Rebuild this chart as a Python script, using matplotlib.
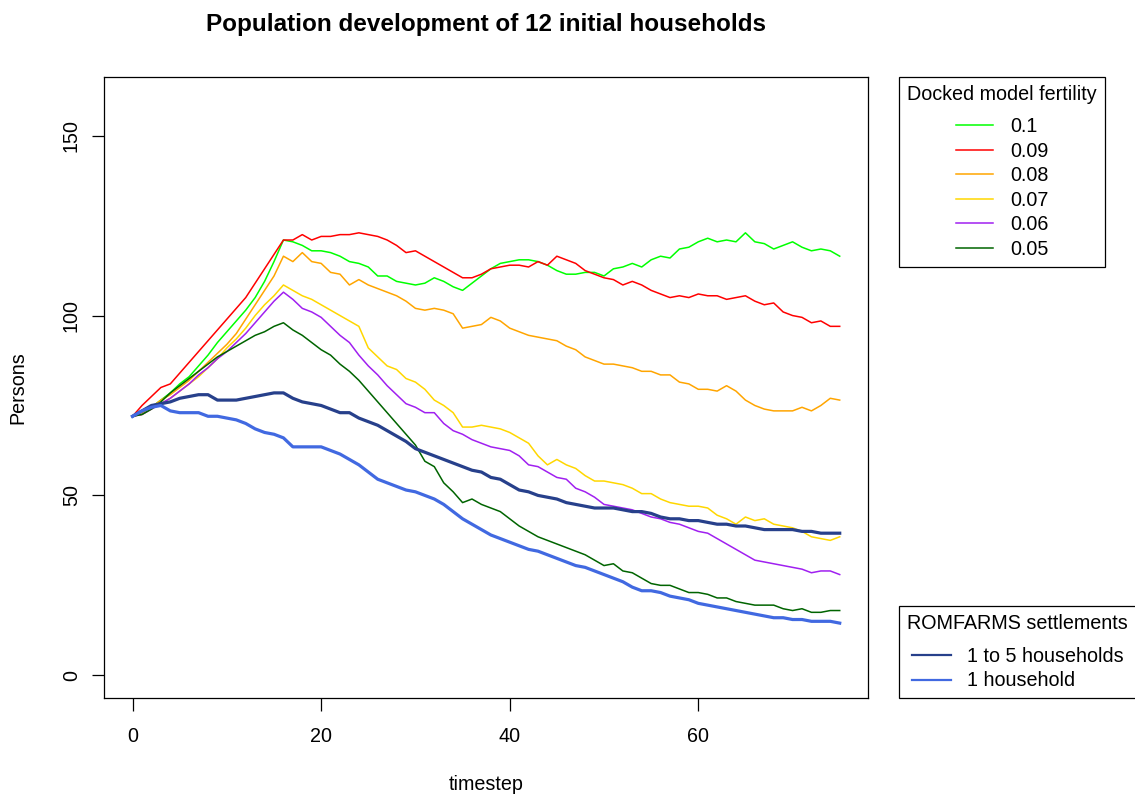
import numpy as np
import matplotlib
matplotlib.use("Agg")
import matplotlib.pyplot as plt
from matplotlib.lines import Line2D

plt.rcParams['font.family'] = ['Liberation Sans', 'DejaVu Sans']

timestep = list(range(76))

# docked model runs, one per fertility rate
fert_010 = [72, 73, 74.5, 76.5, 78.5, 81, 83, 86, 89, 92.5, 95.5, 98.5, 101.5, 105, 109.5, 115,
            121, 120.5, 119.5, 118, 118, 117.5, 116.5, 115, 114.5, 113.5, 111, 111, 109.5, 109, 108.5,
            109, 110.5, 109.5, 108, 107, 109, 111, 113, 114.5, 115, 115.5, 115.5, 115, 114, 112.5,
            111.5, 111.5, 112, 112, 111, 113, 113.5, 114.5, 113.5, 115.5, 116.5, 116, 118.5, 119,
            120.5, 121.5, 120.5, 121, 120.5, 123, 120.5, 120, 118.5, 119.5, 120.5, 119, 118, 118.5,
            118, 116.5]
fert_009 = [72, 75, 77.5, 80, 81, 84, 87, 90, 93, 96, 99, 102, 105, 109, 113, 117,
            121, 121, 122.5, 121, 122, 122, 122.5, 122.5, 123, 122.5, 122, 121, 119.5, 117.5, 118,
            116.5, 115, 113.5, 112, 110.5, 110.5, 111.5, 113, 113.5, 114, 114, 113.5, 115, 114,
            116.5, 115.5, 114.5, 112.5, 111.5, 110.5, 110, 108.5, 109.5, 108.5, 107, 106, 105,
            105.5, 105, 106, 105.5, 105.5, 104.5, 105, 105.5, 104, 103, 103.5, 101, 100, 99.5,
            98, 98.5, 97, 97]
fert_008 = [72, 73, 74.5, 76.5, 78, 80, 82, 84.5, 87, 89.5, 92, 95, 99, 103, 107, 111,
            116.5, 115, 117.5, 115, 114.5, 112, 111.5, 108.5, 110, 108.5, 107.5, 106.5, 105.5, 104,
            102, 101.5, 102, 101.5, 100.5, 96.5, 97, 97.5, 99.5, 98.5, 96.5, 95.5, 94.5, 94, 93.5,
            93, 91.5, 90.5, 88.5, 87.5, 86.5, 86.5, 86, 85.5, 84.5, 84.5, 83.5, 83.5, 81.5, 81,
            79.5, 79.5, 79, 80.5, 79, 76.5, 75, 74, 73.5, 73.5, 73.5, 74.5, 73.5, 75, 77, 76.5]
fert_007 = [72, 72.5, 74, 75.5, 77, 79, 81, 83, 85.5, 88, 91, 93.5, 96.5, 100, 103, 105.5,
            108.5, 107, 105.5, 104.5, 103, 101.5, 100, 98.5, 97, 91, 88.5, 86, 85, 82.5, 81.5,
            79.5, 76.5, 75, 73, 69, 69, 69.5, 69, 68.5, 67.5, 66, 64.5, 61, 58.5, 60, 58.5, 57.5,
            55.5, 54, 54, 53.5, 53, 52, 50.5, 50.5, 49, 48, 47.5, 47, 47, 46.5, 44.5, 43.5, 42,
            44, 43, 43.5, 42, 41.5, 41, 40, 38.5, 38, 37.5, 38.5]
fert_006 = [72, 72.5, 74, 75.5, 77, 79, 81, 83.5, 85.5, 88, 90, 92.5, 95, 98, 101, 104,
            106.5, 104.5, 102, 101, 99.5, 97, 94.5, 92.5, 89, 86, 83.5, 80.5, 78, 75.5, 74.5, 73,
            73, 70, 68, 67, 65.5, 64.5, 63.5, 63, 62.5, 61, 58.5, 58, 56.5, 55, 54.5, 52, 51,
            49.5, 47.5, 47, 46.5, 46, 45, 44, 43.5, 42.5, 42, 41, 40, 39.5, 38, 36.5, 35, 33.5,
            32, 31.5, 31, 30.5, 30, 29.5, 28.5, 29, 29, 28]
fert_005 = [72, 72.5, 74, 76, 78.5, 80.5, 82.5, 84.5, 86.5, 88.5, 90, 91.5, 93, 94.5, 95.5, 97,
            98, 96, 94.5, 92.5, 90.5, 89, 86.5, 84.5, 82, 79, 76, 73, 70, 67, 64, 59.5, 58, 53.5,
            51, 48, 49, 47.5, 46.5, 45.5, 43.5, 41.5, 40, 38.5, 37.5, 36.5, 35.5, 34.5, 33.5, 32,
            30.5, 31, 29, 28.5, 27, 25.5, 25, 25, 24, 23, 23, 22.5, 21.5, 21.5, 20.5, 20, 19.5,
            19.5, 19.5, 18.5, 18, 18.5, 17.5, 17.5, 18, 18]

# ROMFARMS settlement runs
hh_1to5 = [72, 73.5, 75, 75.5, 76, 77, 77.5, 78, 78, 76.5, 76.5, 76.5, 77, 77.5, 78, 78.5,
           78.5, 77, 76, 75.5, 75, 74, 73, 73, 71.5, 70.5, 69.5, 68, 66.5, 65, 63, 62, 61, 60,
           59, 58, 57, 56.5, 55, 54.5, 53, 51.5, 51, 50, 49.5, 49, 48, 47.5, 47, 46.5, 46.5,
           46.5, 46, 45.5, 45.5, 45, 44, 43.5, 43.5, 43, 43, 42.5, 42, 42, 41.5, 41.5, 41, 40.5,
           40.5, 40.5, 40.5, 40, 40, 39.5, 39.5, 39.5]
hh_1 = [72, 73.5, 74.5, 75, 73.5, 73, 73, 73, 72, 72, 71.5, 71, 70, 68.5, 67.5, 67,
        66, 63.5, 63.5, 63.5, 63.5, 62.5, 61.5, 60, 58.5, 56.5, 54.5, 53.5, 52.5, 51.5, 51, 50,
        49, 47.5, 45.5, 43.5, 42, 40.5, 39, 38, 37, 36, 35, 34.5, 33.5, 32.5, 31.5, 30.5, 30,
        29, 28, 27, 26, 24.5, 23.5, 23.5, 23, 22, 21.5, 21, 20, 19.5, 19, 18.5, 18, 17.5, 17,
        16.5, 16, 16, 15.5, 15.5, 15, 15, 15, 14.5]

fert_labels = ['0.1', '0.09', '0.08', '0.07', '0.06', '0.05']
fert_colors = ['#00FF00', '#FF0000', '#FFA500', '#FFD700', '#A020F0', '#006400']
settle_labels = ['1 to 5 households', '1 household']
settle_colors = ['#27408B', '#4169E1']

W, H = 1135, 796
FS = 14.2

fig = plt.figure(figsize=(W / 100, H / 100), dpi=100)
left, right, top, bottom = 104.3, 868, 76.7, 698.3
ax = fig.add_axes([left / W, 1 - bottom / H, (right - left) / W, (bottom - top) / H])

for series, col in zip([fert_010, fert_009, fert_008, fert_007, fert_006, fert_005], fert_colors):
    ax.plot(timestep, series, color=col, lw=1.1)
for series, col in zip([hh_1to5, hh_1], settle_colors):
    ax.plot(timestep, series, color=col, lw=2.3)

ax.set_xlim(-3, 78)
ax.set_ylim(-6.4, 166.4)
ax.set_xticks([0, 20, 40, 60])
ax.set_yticks([0, 50, 100, 150])
ax.tick_params(direction='out', length=9, width=0.9, labelsize=FS)
ax.tick_params(axis='x', pad=11.5)
ax.tick_params(axis='y', pad=7.8)
for lab in ax.get_yticklabels():
    lab.set_rotation(90)
    lab.set_va('center')
for sp in ax.spines.values():
    sp.set_linewidth(0.9)

ax.set_xlabel('timestep', fontsize=FS, va='center')
ax.set_ylabel('Persons', fontsize=FS, va='center')
ax.xaxis.set_label_coords(0.5, -(785 - bottom) / (bottom - top))
ax.yaxis.set_label_coords((18.3 - left) / (right - left), 0.5)
fig.text((left + right) / 2 / W, 1 - 24 / H, 'Population development of 12 initial households',
         ha='center', va='center', fontsize=17.5, fontweight='bold')


def boxed_legend(handles, labels, title, loc, anchor, hlen, hpad):
    leg = fig.legend(handles, labels, title=title, loc=loc, bbox_to_anchor=anchor,
                     fontsize=FS, title_fontsize=FS, fancybox=False, edgecolor='black',
                     framealpha=1, handlelength=hlen, handletextpad=hpad,
                     labelspacing=0.28, borderpad=0.4, borderaxespad=0)
    leg.get_frame().set_linewidth(0.9)
    # a bit more room between the title and the first entry
    leg._legend_box.sep = 0.5 * FS * 100 / 72
    return leg


h1 = [Line2D([], [], color=c, lw=1.1) for c in fert_colors]
boxed_legend(h1, fert_labels, 'Docked model fertility', 'upper left',
             (899.3 / W, 1 - top / H), 1.9, 0.85)

h2 = [Line2D([], [], color=c, lw=1.6) for c in settle_colors]
boxed_legend(h2, settle_labels, 'ROMFARMS settlements', 'lower left',
             (899.3 / W, 1 - bottom / H), 2.0, 0.8)

fig.savefig('out.png', dpi=100)
